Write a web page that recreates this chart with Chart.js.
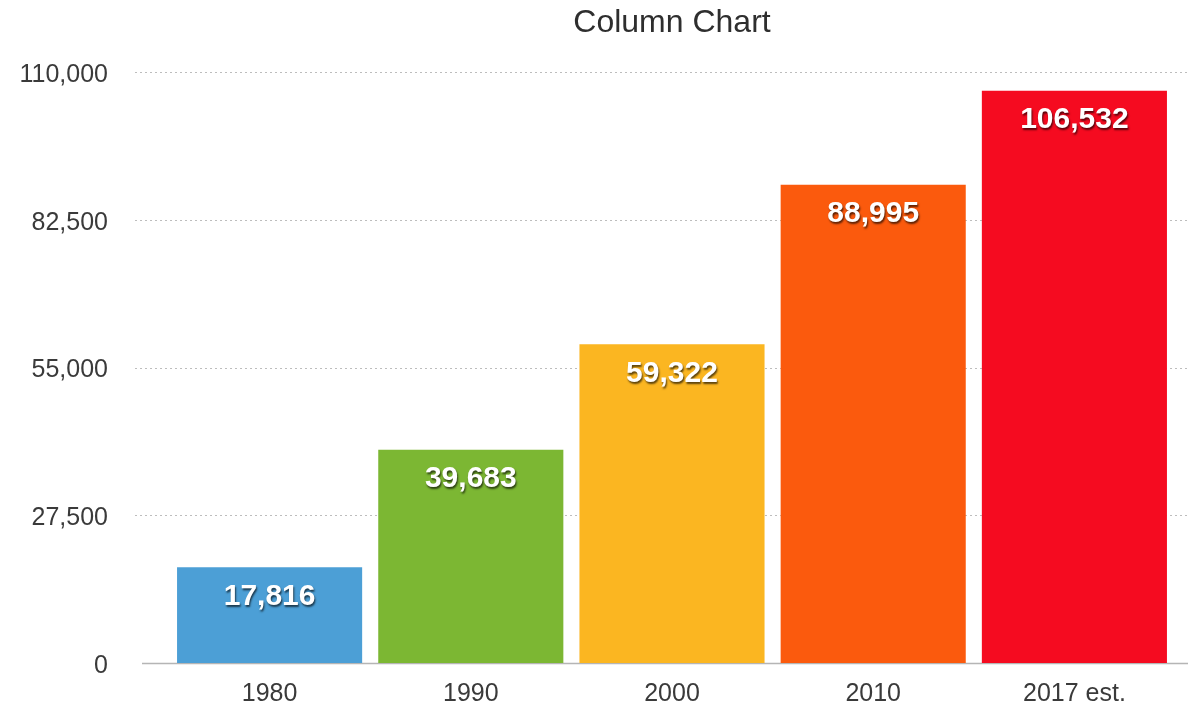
<!DOCTYPE html>
<html>
<head>
<meta charset="utf-8">
<title>Column Chart</title>
<script src="https://cdn.jsdelivr.net/npm/chart.js@4/dist/chart.umd.min.js"></script>
<style>
  html, body { margin: 0; padding: 0; background: #fff; }
  #wrap { width: 1188px; height: 705px; }
</style>
</head>
<body>
<div id="wrap"><canvas id="chart" width="1188" height="705"></canvas></div>
<script>
// ── Data ─────────────────────────────────────────────────────────
const categories = ['1980', '1990', '2000', '2010', '2017 est.'];
const values = [17816, 39683, 59322, 88995, 106532];
const barColors = ['#4c9fd6', '#7cb733', '#fbb621', '#fb5a0d', '#f50b20'];
const yTicks = [0, 27500, 55000, 82500, 110000];
const chartTitle = 'Column Chart';

const FONT = '"Liberation Sans", Helvetica, Arial, sans-serif';

// ── Dotted grid + baseline, running past the plot area ───────────
const gridPlugin = {
  id: 'gridLines',
  beforeDatasetsDraw(chart) {
    const { ctx, scales } = chart;
    const y = scales.y;
    ctx.save();
    yTicks.forEach(v => {
      const py = Math.round(y.getPixelForValue(v)) + 0.5;
      ctx.beginPath();
      if (v === 0) {
        ctx.setLineDash([]);
        ctx.strokeStyle = '#b5b5b5';
        ctx.lineWidth = 1.5;
        ctx.moveTo(142, py);
      } else {
        ctx.setLineDash([2, 3]);
        ctx.strokeStyle = '#bdbdbd';
        ctx.lineWidth = 1;
        ctx.moveTo(135, py);
      }
      ctx.lineTo(chart.width, py);
      ctx.stroke();
    });
    ctx.restore();
  }
};

// ── Title centred over the plot area ─────────────────────────────
const titlePlugin = {
  id: 'plotTitle',
  afterDraw(chart) {
    const { ctx, chartArea } = chart;
    ctx.save();
    ctx.font = '32px ' + FONT;
    ctx.fillStyle = '#2e2e2e';
    ctx.textAlign = 'center';
    ctx.textBaseline = 'middle';
    ctx.fillText(chartTitle, (chartArea.left + chartArea.right) / 2, 23);
    ctx.restore();
  }
};

// ── White value labels inside bar tops ───────────────────────────
const valueLabels = {
  id: 'valueLabels',
  afterDatasetsDraw(chart) {
    const { ctx } = chart;
    const meta = chart.getDatasetMeta(0);
    ctx.save();
    ctx.font = 'bold 30px ' + FONT;
    ctx.fillStyle = '#ffffff';
    ctx.textAlign = 'center';
    ctx.textBaseline = 'middle';
    ctx.shadowColor = 'rgba(0,0,0,0.65)';
    ctx.shadowOffsetX = 1;
    ctx.shadowOffsetY = 2;
    ctx.shadowBlur = 2;
    meta.data.forEach((bar, i) => {
      ctx.fillText(values[i].toLocaleString('en-US'), bar.x, bar.y + 29);
    });
    ctx.restore();
  }
};

new Chart(document.getElementById('chart'), {
  type: 'bar',
  data: {
    labels: categories,
    datasets: [{
      data: values,
      backgroundColor: barColors,
      borderWidth: 0,
      barPercentage: 0.92,
      categoryPercentage: 1,
    }],
  },
  options: {
    responsive: false,
    animation: false,
    devicePixelRatio: 1,
    layout: { padding: { top: 72, right: 13, bottom: 0, left: 0 } },
    plugins: {
      legend: { display: false },
      tooltip: { enabled: false },
      title: { display: false },
    },
    scales: {
      x: {
        grid: { display: false, drawTicks: false },
        border: { display: false },
        ticks: {
          color: '#3a3a3a',
          padding: 16,
          font: { family: FONT, size: 25 },
          maxRotation: 0,
        },
        afterFit(scale) { scale.height = 42; },
      },
      y: {
        min: 0,
        max: 110000,
        grid: { display: false, drawTicks: false },
        border: { display: false },
        afterBuildTicks(scale) {
          scale.ticks = yTicks.map(v => ({ value: v }));
        },
        ticks: {
          color: '#3a3a3a',
          padding: 61,
          labelOffset: 3,
          font: { family: FONT, size: 25 },
          callback: v => Number(v).toLocaleString('en-US'),
        },
        afterFit(scale) {
          // big label gap would otherwise pad the plot top/bottom too
          scale.width = 169;
          scale.paddingTop = 15;
          scale.paddingBottom = 15;
        },
      },
    },
  },
  plugins: [gridPlugin, valueLabels, titlePlugin],
});
</script>
</body>
</html>
